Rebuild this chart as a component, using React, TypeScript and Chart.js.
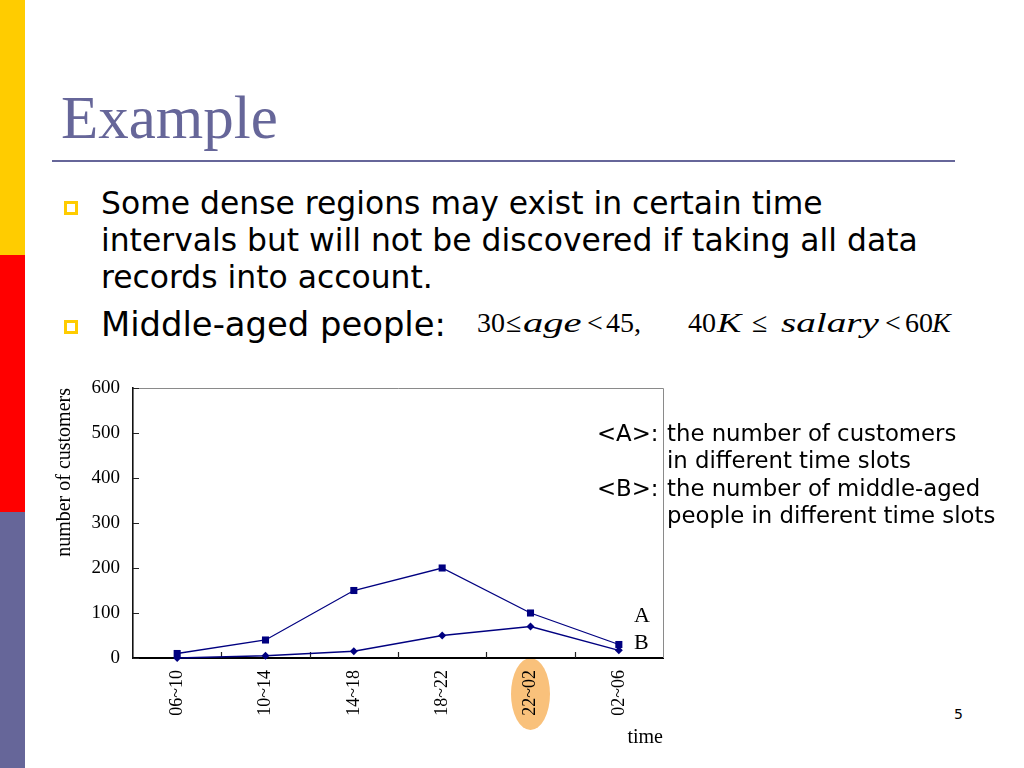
import React, { useEffect, useRef } from "react";
import { Chart, registerables } from "chart.js";

Chart.register(...registerables);

// ---- data ----
const timeSlots = ["06~10", "10~14", "14~18", "18~22", "22~02", "02~06"];
const customersA = [10, 40, 150, 200, 100, 30];
const middleAgedB = [0, 5, 15, 50, 70, 17];
const yMin = 0;
const yMax = 600;
const yStep = 100;
const highlightedSlot = "22~02";
const seriesNames = ["A", "B"];

const NAVY = "#000080";
const PURPLE = "#666699";

const decorPlugin = {
  id: "decor",
  beforeDraw(chart: any) {
    const { ctx, chartArea, scales } = chart;
    const x = scales.x;
    const idx = timeSlots.indexOf(highlightedSlot);
    if (idx < 0) return;
    const cx = x.getPixelForValue(idx);
    ctx.save();
    ctx.fillStyle = "#F9C17B";
    ctx.beginPath();
    ctx.ellipse(cx, chartArea.bottom + 36, 19.5, 36, 0, 0, Math.PI * 2);
    ctx.fill();
    ctx.restore();
  },
  beforeDatasetsDraw(chart: any) {
    const { ctx, chartArea, scales } = chart;
    const { left, right, top, bottom } = chartArea;
    ctx.save();
    ctx.strokeStyle = "#8a8a8a";
    ctx.lineWidth = 1;
    ctx.beginPath();
    ctx.moveTo(left, top + 0.5);
    ctx.lineTo(right + 0.5, top + 0.5);
    ctx.lineTo(right + 0.5, bottom);
    ctx.stroke();
    ctx.strokeStyle = "#222";
    ctx.lineWidth = 1.2;
    ctx.beginPath();
    const y = scales.y;
    for (let v = yMin; v <= yMax; v += yStep) {
      const py = Math.round(y.getPixelForValue(v)) + 0.5;
      ctx.moveTo(left, py);
      ctx.lineTo(left + 6, py);
    }
    const x = scales.x;
    for (let i = 1; i < timeSlots.length; i++) {
      const px = Math.round((x.getPixelForValue(i - 1) + x.getPixelForValue(i)) / 2) + 0.5;
      ctx.moveTo(px, bottom);
      ctx.lineTo(px, bottom - 6);
    }
    ctx.stroke();
    ctx.restore();
  },
};

function CustomerChart() {
  const ref = useRef<HTMLCanvasElement>(null);
  useEffect(() => {
    if (!ref.current) return;
    const serif = "'Liberation Serif', 'Times New Roman', serif";
    const chart = new Chart(ref.current, {
      type: "line",
      data: {
        labels: timeSlots,
        datasets: [
          {
            label: seriesNames[0],
            data: customersA,
            borderColor: NAVY,
            backgroundColor: NAVY,
            borderWidth: 1.3,
            pointStyle: "rect",
            pointRadius: 5,
            pointBorderWidth: 0,
            tension: 0,
            clip: false as any,
          },
          {
            label: seriesNames[1],
            data: middleAgedB,
            borderColor: NAVY,
            backgroundColor: NAVY,
            borderWidth: 1.3,
            pointStyle: "rectRot",
            pointRadius: 4,
            pointBorderWidth: 0,
            tension: 0,
            clip: false as any,
          },
        ],
      },
      options: {
        animation: false,
        responsive: true,
        maintainAspectRatio: false,
        layout: { padding: { top: 18, right: 17, left: 0, bottom: 0 } },
        plugins: {
          legend: { display: false },
          tooltip: { enabled: false },
          title: { display: false },
        },
        scales: {
          x: {
            type: "category",
            offset: true,
            grid: { display: false, drawTicks: false },
            border: { display: true, color: "#000", width: 2 },
            ticks: {
              minRotation: 90,
              maxRotation: 90,
              padding: 12,
              color: "#000",
              font: { family: serif, size: 18 },
            },
            title: {
              display: true,
              text: "time",
              align: "end",
              color: "#000",
              font: { family: serif, size: 20 },
              padding: { top: 0, bottom: 10 },
            },
            afterFit(scale: any) {
              scale.height = 102;
            },
          },
          y: {
            min: yMin,
            max: yMax,
            grid: { display: false, drawTicks: false },
            border: { display: true, color: "#111", width: 1.6 },
            ticks: {
              stepSize: yStep,
              padding: 13,
              color: "#000",
              font: { family: serif, size: 19 },
            },
            title: {
              display: true,
              text: "number of customers",
              align: "end",
              color: "#000",
              font: { family: serif, size: 20 },
              padding: { top: 13, bottom: 0 },
            },
            afterFit(scale: any) {
              scale.width = 93;
              scale.paddingTop = 0;
              scale.paddingBottom = 0;
            },
          },
        },
      },
      plugins: [decorPlugin],
    });
    return () => chart.destroy();
  }, []);
  return <canvas ref={ref} style={{ width: "100%", height: "100%" }} />;
}

const abs = (s: React.CSSProperties): React.CSSProperties => ({ position: "absolute", ...s });

export default function App() {
  const sans = "'DejaVu Sans', Verdana, sans-serif";
  const serif = "'Liberation Serif', 'Times New Roman', serif";
  const fx: React.CSSProperties = { position: "absolute", top: 308.6, fontFamily: serif, fontSize: 28, lineHeight: "28px", whiteSpace: "nowrap", color: "#000" };
  const it = (sx: number): React.CSSProperties => ({ ...fx, fontStyle: "italic", display: "inline-block", transform: `scaleX(${sx})`, transformOrigin: "left center" });
  const bullet = (top: number) => (
    <div style={abs({ left: 64, top, width: 14, height: 14, border: "3px solid #FFCC00", boxSizing: "border-box" })} />
  );
  return (
    <div style={abs({ position: "fixed", left: 0, top: 0, width: 1024, height: 768, background: "#fff", overflow: "hidden", fontFamily: sans, color: "#000" })}>
      <div style={abs({ left: 0, top: 0, width: 25, height: 255, background: "#FFCC00" })} />
      <div style={abs({ left: 0, top: 255, width: 25, height: 257, background: "#FF0000" })} />
      <div style={abs({ left: 0, top: 512, width: 25, height: 256, background: PURPLE })} />

      <div style={abs({ left: 61, top: 87, fontFamily: serif, fontSize: 61, lineHeight: "61px", color: PURPLE, whiteSpace: "nowrap" })}>Example</div>
      <div style={abs({ left: 52, top: 160, width: 903, height: 2, background: PURPLE })} />

      {bullet(201)}
      <div style={abs({ left: 101, top: 185, fontSize: 31.4, lineHeight: "37px", whiteSpace: "nowrap" })}>
        Some dense regions may exist in certain time
        <br />
        intervals but will not be discovered if taking all data
        <br />
        records into account.
      </div>
      {bullet(320)}
      <div style={abs({ left: 101, top: 306, fontSize: 33.8, lineHeight: "38px", whiteSpace: "nowrap" })}>Middle-aged people:</div>

      <span style={{ ...fx, left: 477 }}>30</span>
      <span style={{ ...fx, left: 506 }}>≤</span>
      <span style={{ ...it(1.45), left: 523 }}>age</span>
      <span style={{ ...fx, left: 587 }}>&lt;</span>
      <span style={{ ...fx, left: 606 }}>45,</span>
      <span style={{ ...fx, left: 688 }}>40</span>
      <span style={{ ...it(1.3), left: 717 }}>K</span>
      <span style={{ ...fx, left: 752 }}>≤</span>
      <span style={{ ...it(1.4), left: 781 }}>salary</span>
      <span style={{ ...fx, left: 885 }}>&lt;</span>
      <span style={{ ...fx, left: 905 }}>60</span>
      <span style={{ ...it(1.0), left: 932 }}>K</span>

      <div style={abs({ left: 40, top: 370, width: 640, height: 390 })}>
        <CustomerChart />
      </div>

      <div style={abs({ left: 634, top: 603.6, fontFamily: serif, fontSize: 22, lineHeight: "22px" })}>{seriesNames[0]}</div>
      <div style={abs({ left: 634, top: 630.6, fontFamily: serif, fontSize: 22, lineHeight: "22px" })}>{seriesNames[1]}</div>

      <div style={abs({ left: 597, top: 419.5, fontSize: 22.8, lineHeight: "27.5px", whiteSpace: "nowrap" })}>
        <div style={{ display: "flex" }}>
          <span style={{ width: 70, display: "inline-block" }}>&lt;A&gt;:</span>
          <div>
            the number of customers
            <br />
            in different time slots
          </div>
        </div>
        <div style={{ display: "flex" }}>
          <span style={{ width: 70, display: "inline-block" }}>&lt;B&gt;:</span>
          <div>
            the number of middle-aged
            <br />
            people in different time slots
          </div>
        </div>
      </div>

      <div style={abs({ left: 954, top: 705, fontSize: 14, lineHeight: "18px" })}>5</div>
    </div>
  );
}
